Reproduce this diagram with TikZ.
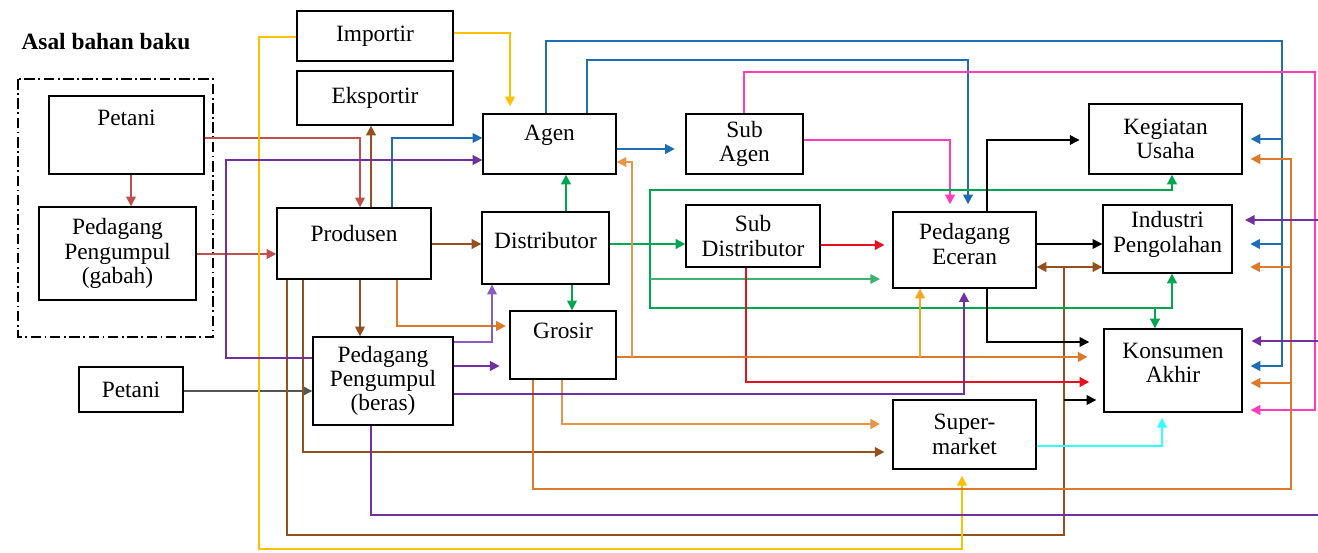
\documentclass[tikz,border=0pt]{standalone}
\usepackage{fontspec}
\setmainfont{Liberation Serif}
\usetikzlibrary{arrows.meta,positioning,calc}
\definecolor{cRedB}{HTML}{C0504D}
\definecolor{cBrown}{HTML}{94501E}
\definecolor{cOrange}{HTML}{DB7A2A}
\definecolor{cOrangeL}{HTML}{E8954A}
\definecolor{cGold}{HTML}{F5A623}
\definecolor{cYellow}{HTML}{FFC000}
\definecolor{cBlue}{HTML}{1F6DB5}
\definecolor{cPurple}{HTML}{7030A0}
\definecolor{cPurpleL}{HTML}{8A5CC0}
\definecolor{cGreen}{HTML}{00A550}
\definecolor{cGreenL}{HTML}{3CB371}
\definecolor{cPink}{HTML}{FF3CB9}
\definecolor{cRed}{HTML}{E8101E}
\definecolor{cCyan}{HTML}{33FFFF}
\definecolor{cGray}{HTML}{555555}

\begin{document}
\begin{tikzpicture}[x=0.02cm, y=-0.02cm,
    every node/.style={font=\fontsize{13.3}{13.8}\selectfont},
    box/.style={draw, thick, inner sep=0pt, align=center},
    arr/.style={-{Triangle[length=5.5pt,width=5.5pt]}, line width=1.1pt},
    dbl/.style={{Triangle[length=5.5pt,width=5.5pt]}-{Triangle[length=5.5pt,width=5.5pt]}, line width=1.1pt}]
    \path[use as bounding box, clip] (0,0) rectangle (1318,553);

    % Asal bahan baku
    \node[font=\fontsize{13.3}{13.8}\selectfont\bfseries] (asal) at (106,42) {Asal bahan baku};
    \draw[semithick, dash pattern=on 6pt off 2pt on 1pt off 2pt] (18,79) rectangle (213,337);
    \node[box, minimum width=3.1cm, minimum height=1.56cm, text depth=20pt] (pet1) at (126.5,135) {Petani};
    \node[box, minimum width=3.14cm, minimum height=1.86cm] (pg) at (117.5,253.5) {Pedagang\\Pengumpul\\(gabah)};
    \node[box, minimum width=2.08cm, minimum height=0.9cm] (pet2) at (131,389.5) {Petani};

    % Boxes
    \node[box, minimum width=3.12cm, minimum height=1cm] (imp) at (375,36) {Importir};
    \node[box, minimum width=3.12cm, minimum height=1.08cm] (eks) at (375,98) {Eksportir};
    \node[box, minimum width=3.08cm, minimum height=1.42cm, text depth=11pt] (prod) at (354,243.5) {Produsen};
    \node[box, minimum width=2.8cm, minimum height=1.76cm] (ppb) at (383,381) {Pedagang\\Pengumpul\\(beras)};
    \node[box, minimum width=2.66cm, minimum height=1.2cm, text depth=13pt] (agen) at (549.5,144) {Agen};
    \node[box, minimum width=2.54cm, minimum height=1.44cm, text depth=9pt] (dist) at (545.5,248) {Distributor};
    \node[box, minimum width=2.12cm, minimum height=1.36cm, text depth=16pt] (grosir) at (563,345) {Grosir};
    \node[box, minimum width=2.34cm, minimum height=1.2cm] (subag) at (744.5,144) {Sub\\Agen};
    \node[box, minimum width=2.68cm, minimum height=1.24cm] (subdist) at (753,236) {Sub\\Distributor};
    \node[box, minimum width=2.86cm, minimum height=1.52cm, text depth=7pt] (ecer) at (964.5,250) {Pedagang\\Eceran};
    \node[box, minimum width=2.86cm, minimum height=1.38cm] (super) at (964.5,434.5) {Super-\\market};
    \node[box, minimum width=3.06cm, minimum height=1.4cm] (keg) at (1165.5,139) {Kegiatan\\Usaha};
    \node[box, minimum width=2.58cm, minimum height=1.36cm, text depth=8pt] (ind) at (1167.5,239) {Industri\\Pengolahan};
    \node[box, minimum width=2.76cm, minimum height=1.66cm, text depth=9pt] (kons) at (1173,370.5) {Konsumen\\Akhir};

    % Petani
    \draw[arr, cRedB, line width=0.9pt] (pet1.south -| 131,0) -- (pg.north -| 131,0);
    \draw[arr, cRedB, line width=0.9pt] (pet1.east |- 0,138) -| (prod.north -| 360,0);
    \draw[arr, cRedB] (pg.east |- 0,254) -- (prod.west |- 0,254);
    \draw[arr, cGray, line width=0.7pt] (pet2.east |- 0,391) -- (ppb.west |- 0,391);

    % Produsen
    \draw[arr, cBrown] (prod.north -| 371,0) -- (eks.south -| 371,0);
    \draw[arr, cBlue, line width=0.9pt] (prod.north -| 392,0) |- (agen.west |- 0,138);
    \draw[arr, cBrown] (prod.east |- 0,244) -- (dist.west |- 0,244);
    \draw[arr, cBrown, line width=0.9pt] (prod.south -| 360,0) -- (ppb.north -| 360,0);
    \draw[arr, cOrange, shorten >=2pt] (prod.south -| 397,0) |- (grosir.west |- 0,326);
    \draw[arr, cBrown, shorten >=4.5pt] (prod.south -| 303,0) |- (super.west |- 0,452);
    \draw[cBrown, line width=1.1pt] (prod.south -| 287,0) |- (1064,535) -- (1064,267);
    \draw[dbl, cBrown] (ecer.east |- 0,267) -- (ind.west |- 0,267);
    \draw[arr, black, line width=0.9pt, shorten >=4pt] (1064,400) -- (kons.west |- 0,400);

    % Importir
    \draw[arr, cYellow, shorten >=3.5pt] (imp.west |- 0,37) -| (259,549) -| (super.south -| 962,0);
    \draw[arr, cYellow, shorten >=4pt] (imp.east |- 0,33) -| (agen.north -| 510,0);

    % Agen
    \draw[arr, cBlue, shorten >=4.5pt] (agen.north -| 546,0) |- (1282,41) -- (1282,366) -- (kons.east |- 0,366);
    \draw[arr, cBlue, shorten >=4.5pt] (1282,139) -- (keg.east |- 0,139);
    \draw[arr, cBlue, shorten >=10pt] (1282,244) -- (ind.east |- 0,244);
    \draw[arr, cBlue, shorten >=4pt] (agen.north -| 587,0) |- (968,60) -- (ecer.north -| 968,0);
    \draw[arr, cBlue, shorten >=6pt] (agen.east |- 0,149) -- (subag.west |- 0,149);

    % Sub Agen
    \draw[arr, cPink, shorten >=4.5pt] (subag.north -| 744,0) |- (1315,72) |- (kons.east |- 0,410);
    \draw[arr, cPink, shorten >=4pt] (subag.east |- 0,140) -| (ecer.north -| 950,0);

    % Distributor
    \draw[arr, cGreen] (dist.north -| 566,0) -- (agen.south -| 566,0);
    \draw[arr, cGreen, line width=0.8pt] (dist.south -| 572,0) -- (grosir.north -| 572,0);
    \draw[arr, cGreen] (dist.east |- 0,244) -- (subdist.west |- 0,244);
    \draw[arr, cGreen] (650,244) |- (1172,190) -- (keg.south -| 1172,0);
    \draw[arr, cGreen] (650,244) |- (1172,308) -- (ind.south -| 1172,0);
    \draw[arr, cGreen] (1155,308) -- (kons.north -| 1155,0);
    \draw[arr, cGreenL, line width=0.8pt, shorten >=7pt] (650,279) -- (ecer.west |- 0,279);

    % Sub Distributor
    \draw[arr, cRed, shorten >=4.5pt] (subdist.east |- 0,245) -- (ecer.west |- 0,245);
    \draw[arr, cRed, shorten >=8pt] (subdist.south -| 746,0) |- (kons.west |- 0,382);

    % Grosir
    \draw[arr, cOrange, shorten >=9pt] (grosir.east |- 0,357) -- (kons.west |- 0,357);
    \draw[arr, cOrangeL] (632,357) |- (agen.east |- 0,162);
    \draw[arr, cGold] (920,357) -- (ecer.south -| 920,0);
    \draw[arr, cOrange, shorten >=4.5pt] (grosir.south -| 533,0) |- (1291,489) |- (keg.east |- 0,159);
    \draw[arr, cOrange, shorten >=10pt] (1291,267) -- (ind.east |- 0,267);
    \draw[arr, cOrange, shorten >=4.5pt] (1291,383) -- (kons.east |- 0,383);
    \draw[arr, cOrangeL, shorten >=7pt] (grosir.south -| 562,0) |- (super.west |- 0,424);

    % Pedagang Pengumpul (beras)
    \draw[arr, cPurple] (ppb.west |- 0,358) -| (226,160) -- (agen.west |- 0,160);
    \draw[arr, cPurpleL, line width=0.8pt] (ppb.east |- 0,342) -| (dist.south -| 492,0);
    \draw[arr, cPurple, shorten >=5.5pt] (ppb.east |- 0,366) -- (grosir.west |- 0,366);
    \draw[arr, cPurple, shorten >=2pt] (ppb.east |- 0,394) -| (ecer.south -| 964,0);
    \draw[cPurple, line width=1.1pt] (ppb.south -| 371,0) |- (1320,515) -- (1320,220);
    \draw[arr, cPurple, line width=0.9pt, shorten >=7pt] (1320,220) -- (ind.east |- 0,220);
    \draw[arr, cPurple, line width=0.9pt, shorten >=5pt] (1320,341) -- (kons.east |- 0,341);

    % Pedagang Eceran
    \draw[arr, black, line width=0.8pt, shorten >=5pt] (ecer.north -| 987,0) |- (keg.west |- 0,140);
    \draw[arr, black, line width=0.8pt] (ecer.east |- 0,244) -- (ind.west |- 0,244);
    \draw[arr, black, line width=0.8pt, shorten >=8pt] (ecer.south -| 987,0) |- (kons.west |- 0,342);

    % Supermarket
    \draw[arr, cCyan, shorten >=3pt] (super.east |- 0,446) -| (kons.south -| 1162,0);
\end{tikzpicture}
\end{document}
